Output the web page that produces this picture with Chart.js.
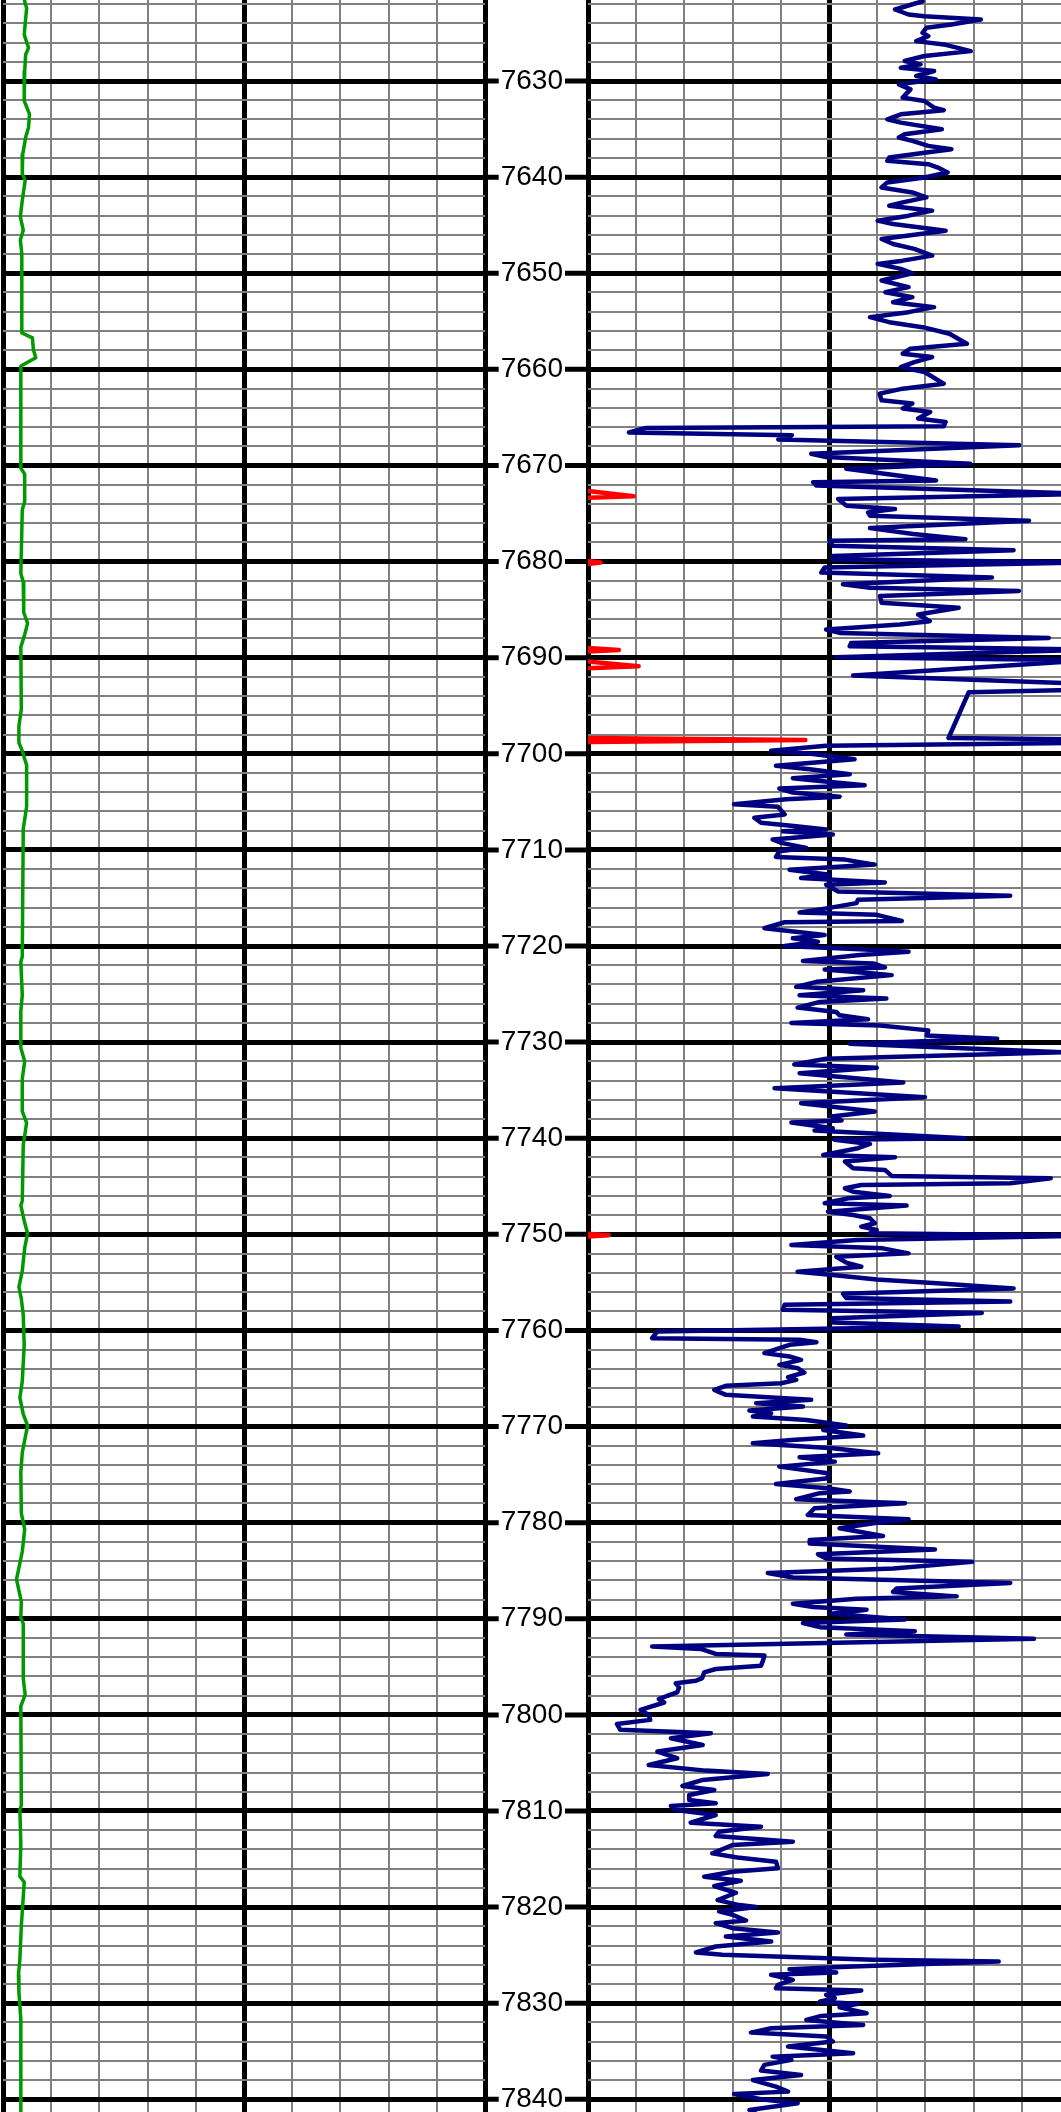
<!DOCTYPE html>
<html>
<head>
<meta charset="utf-8">
<script src="https://cdn.jsdelivr.net/npm/chart.js@4.4.0/dist/chart.umd.min.js"></script>
<style>
  html, body { margin: 0; padding: 0; background: #fff; overflow: hidden; }
  #wrap { position: relative; width: 1061px; height: 2112px; overflow: hidden; }
  #left { position: absolute; left: 0; top: 0; }
  #right { position: absolute; left: 485px; top: 0; }
</style>
</head>
<body>
<div id="wrap">
  <canvas id="left" width="490" height="2112"></canvas>
  <canvas id="right" width="590" height="2112"></canvas>
</div>
<script>
// visible depth window (ft)
const DEPTH_TOP = 7621.57;
const DEPTH_BOTTOM = 7841.32;

const depthLabels = [7630, 7640, 7650, 7660, 7670, 7680, 7690, 7700, 7710, 7720, 7730,
  7740, 7750, 7760, 7770, 7780, 7790, 7800, 7810, 7820, 7830, 7840];

// track scale is 0..100 with a line every 10, heavy at 0/50/100
const trackTicks = [0, 10, 20, 30, 40, 50, 60, 70, 80, 90, 100];

// left track curve (green)
const greenDepth = [7621.0, 7621.72, 7622.41, 7625.17, 7626.55, 7627.24, 7628.97, 7632.07, 7633.45, 7634.83,
  7635.86, 7637.59, 7639.66, 7640.34, 7642.41, 7644.14, 7645.52, 7646.55, 7647.93, 7650.52,
  7656.21, 7656.72, 7657.93, 7658.79, 7659.66, 7663.10, 7670.3, 7670.9, 7673.75, 7674.6,
  7681.25, 7682.1, 7685.3, 7686.4, 7687.6, 7688.9, 7695.4, 7697.1, 7698.85, 7699.7,
  7701.2, 7705.5, 7707.8, 7721.1, 7721.65, 7725.1, 7726.8, 7730.6, 7732.0, 7733.8,
  7737.2, 7738.4, 7740.7, 7746.5, 7747.0, 7748.8, 7749.9, 7751.4, 7753.8, 7755.5,
  7756.7, 7758.4, 7761.5, 7765.3, 7767.0, 7768.7, 7769.9, 7772.7, 7774.7, 7779.0,
  7780.7, 7783.0, 7785.9, 7788.2, 7789.9, 7790.5, 7796.2, 7797.9, 7799.1, 7809.4,
  7809.9, 7813.4, 7816.8, 7817.4, 7822.0, 7825.4, 7827.1, 7828.8, 7831.7, 7841.8];
const greenValue = [4.5, 4.5, 4.9, 4.4, 5.3, 4.7, 4.5, 4.4, 5.5, 5.3,
  4.7, 4.1, 4.0, 4.6, 4.0, 3.6, 4.2, 3.6, 3.9, 3.9,
  3.9, 6.1, 6.3, 6.8, 3.7, 3.7, 3.7, 4.5, 4.5, 4.0,
  3.7, 4.2, 4.3, 5.1, 4.5, 3.7, 3.8, 3.3, 3.3, 4.0,
  4.9, 4.9, 4.2, 4.0, 3.7, 4.0, 3.7, 3.7, 4.5, 4.0,
  4.0, 4.9, 4.2, 4.0, 3.7, 4.5, 5.1, 4.5, 4.0, 3.3,
  3.8, 4.2, 4.4, 4.0, 3.5, 4.2, 5.1, 4.0, 3.7, 3.8,
  4.5, 4.0, 2.8, 3.8, 3.7, 4.2, 4.2, 4.6, 3.7, 3.8,
  3.5, 3.7, 3.5, 4.4, 3.8, 3.5, 3.2, 3.3, 3.7, 3.7];

// right track curve (blue)
const blueDepth = [7621.0, 7621.70, 7622.56, 7623.08, 7623.25, 7623.60, 7624.12, 7624.46, 7624.98, 7625.33,
  7625.85, 7626.19, 7626.89, 7627.40, 7627.92, 7628.27, 7628.62, 7628.96, 7629.48, 7629.83,
  7630.35, 7630.87, 7631.73, 7632.08, 7632.77, 7633.04, 7633.46, 7633.98, 7634.33, 7635.02,
  7635.54, 7635.88, 7636.23, 7636.75, 7637.09, 7637.44, 7637.96, 7638.30, 7638.65, 7639.00,
  7639.52, 7640.03, 7640.55, 7641.07, 7641.59, 7642.11, 7642.63, 7642.98, 7643.49, 7644.01,
  7644.53, 7644.88, 7645.57, 7646.09, 7646.44, 7646.96, 7647.47, 7648.17, 7648.69, 7649.03,
  7649.55, 7650.00, 7650.76, 7651.45, 7651.97, 7652.49, 7653.01, 7653.53, 7654.05, 7654.57,
  7655.09, 7655.61, 7656.30, 7657.34, 7657.85, 7658.37, 7658.72, 7659.24, 7659.76, 7660.28,
  7661.49, 7662.01, 7662.53, 7663.22, 7663.56, 7664.08, 7664.43, 7665.12, 7665.47, 7665.92,
  7666.09, 7666.57, 7666.85, 7667.30, 7667.89, 7668.78, 7669.13, 7669.83, 7670.35, 7671.57,
  7671.74, 7672.09, 7672.96, 7673.48, 7674.18, 7674.53, 7674.88, 7675.23, 7675.75, 7676.52,
  7677.14, 7677.67, 7677.84, 7678.36, 7678.82, 7679.41, 7679.76, 7680.10, 7680.63, 7681.15,
  7681.67, 7682.37, 7682.72, 7683.07, 7683.59, 7684.29, 7684.81, 7685.51, 7686.20, 7686.55,
  7687.07, 7687.42, 7687.94, 7688.47, 7688.81, 7689.16, 7689.95, 7690.28, 7691.85, 7692.72,
  7693.34, 7693.59, 7698.36, 7698.50, 7698.85, 7699.16, 7699.69, 7700.03, 7700.56, 7701.25,
  7701.60, 7702.13, 7702.54, 7702.82, 7703.28, 7703.62, 7704.04, 7704.46, 7704.74, 7705.26,
  7705.51, 7706.31, 7706.66, 7707.18, 7707.53, 7707.88, 7708.05, 7708.40, 7708.92, 7709.27,
  7709.79, 7710.14, 7710.73, 7711.01, 7711.53, 7712.06, 7712.58, 7712.93, 7713.38, 7713.62,
  7714.32, 7714.77, 7715.19, 7715.54, 7716.06, 7716.52, 7716.76, 7717.39, 7717.53, 7718.15,
  7718.85, 7719.20, 7719.55, 7720.00, 7720.35, 7720.59, 7720.94, 7721.57, 7721.81, 7722.23,
  7722.44, 7722.86, 7723.03, 7723.73, 7724.25, 7724.60, 7725.12, 7725.47, 7725.82, 7726.41,
  7726.86, 7727.21, 7727.63, 7728.01, 7728.26, 7728.78, 7729.30, 7729.65, 7730.17, 7731.05,
  7731.74, 7732.33, 7732.68, 7733.23, 7734.20, 7734.79, 7735.73, 7736.35, 7737.22, 7737.74,
  7738.16, 7738.37, 7738.96, 7739.20, 7740.00, 7740.17, 7740.59, 7741.04, 7741.74, 7741.98,
  7742.43, 7743.13, 7743.30, 7743.92, 7744.17, 7744.69, 7744.86, 7745.21, 7745.56, 7746.01,
  7746.25, 7746.77, 7747.01, 7747.64, 7747.99, 7748.33, 7748.85, 7749.20, 7749.55, 7749.90,
  7750.14, 7750.59, 7751.11, 7751.46, 7751.98, 7752.33, 7752.95, 7753.37, 7753.89, 7754.24,
  7754.69, 7755.10, 7755.63, 7756.18, 7756.63, 7756.98, 7757.33, 7757.85, 7758.19, 7758.72,
  7759.17, 7759.58, 7760.10, 7760.80, 7760.97, 7761.22, 7761.49, 7762.36, 7762.71, 7763.06,
  7763.58, 7763.92, 7764.38, 7764.86, 7765.14, 7765.49, 7765.76, 7766.18, 7766.70, 7766.94,
  7767.22, 7767.57, 7767.92, 7768.33, 7768.61, 7768.96, 7769.31, 7769.90, 7770.35, 7770.94,
  7771.39, 7771.74, 7772.26, 7772.78, 7773.19, 7773.65, 7774.17, 7774.86, 7775.38, 7775.97,
  7776.42, 7776.76, 7776.93, 7777.56, 7777.98, 7778.50, 7779.20, 7779.65, 7780.07, 7780.59,
  7781.39, 7781.81, 7782.16, 7782.79, 7783.28, 7783.73, 7784.08, 7784.77, 7785.23, 7785.71,
  7786.27, 7786.86, 7787.21, 7787.67, 7787.91, 7788.43, 7788.78, 7789.06, 7789.48, 7790.07,
  7790.45, 7790.87, 7791.29, 7791.64, 7792.09, 7792.89, 7793.14, 7793.66, 7793.83, 7794.36,
  7794.88, 7795.23, 7795.57, 7796.17, 7796.45, 7796.72, 7797.14, 7797.67, 7798.01, 7798.36,
  7798.71, 7799.48, 7800.00, 7800.52, 7800.94, 7801.56, 7801.91, 7802.43, 7803.13, 7803.82,
  7804.51, 7805.21, 7805.80, 7806.15, 7806.49, 7806.77, 7807.40, 7807.81, 7808.33, 7808.85,
  7809.20, 7809.48, 7809.90, 7810.42, 7811.22, 7811.63, 7812.15, 7812.60, 7813.19, 7813.54,
  7814.41, 7814.83, 7815.28, 7815.97, 7816.32, 7816.84, 7817.26, 7817.81, 7818.51, 7819.27,
  7819.79, 7820.00, 7820.45, 7820.80, 7821.39, 7821.67, 7822.19, 7822.64, 7823.06, 7823.58,
  7824.10, 7824.72, 7824.97, 7825.49, 7825.66, 7826.18, 7826.46, 7826.81, 7827.05, 7827.57,
  7828.09, 7828.44, 7828.68, 7829.13, 7829.48, 7829.83, 7830.07, 7830.42, 7831.04, 7831.32,
  7831.74, 7832.26, 7832.60, 7833.06, 7833.47, 7833.99, 7834.51, 7835.21, 7835.56, 7835.90,
  7836.42, 7837.01, 7837.47, 7838.00, 7838.68, 7839.20, 7839.44, 7840.00, 7840.42, 7841.11,
  7841.8];
const blueValue = [68.0, 69.4, 63.7, 66.5, 69.8, 81.5, 75.4, 70.2, 69.4, 70.6,
  68.1, 73.8, 79.4, 69.8, 65.7, 69.0, 64.9, 71.8, 68.1, 72.2,
  64.5, 66.9, 65.3, 69.8, 71.8, 73.8, 64.9, 62.1, 64.9, 73.4,
  65.7, 64.5, 67.3, 70.6, 75.4, 70.2, 62.5, 62.1, 70.6, 72.6,
  74.6, 69.8, 62.1, 60.9, 67.3, 70.2, 65.3, 62.5, 71.4, 66.5,
  60.1, 63.3, 74.2, 66.1, 60.9, 63.3, 67.7, 71.4, 65.3, 60.1,
  64.9, 67.3, 60.9, 66.5, 61.7, 67.3, 63.3, 71.8, 66.5, 58.5,
  62.5, 69.4, 75.0, 78.6, 66.9, 65.3, 71.4, 67.7, 64.9, 69.8,
  73.8, 65.3, 60.5, 60.9, 67.3, 65.3, 71.0, 68.5, 74.2, 73.8,
  12.1, 8.5, 42.3, 39.5, 89.5, 46.3, 49.4, 79.3, 53.6, 72.2,
  46.7, 47.4, 104, 51.9, 53.6, 63.7, 58.1, 58.5, 91.5, 58.5,
  67.5, 78.3, 50.1, 50.8, 88.3, 50.8, 50.8, 103, 49.1, 48.4,
  83.8, 52.9, 58.5, 89.4, 60.6, 60.9, 76.9, 68.5, 70.9, 64.7,
  49.4, 52.2, 95.6, 54.6, 54.3, 104, 51.5, 104, 55.0, 104,
  103, 79.0, 74.8, 104, 104, 49.4, 38.0, 46.7, 55.3, 39.0,
  46.0, 54.3, 42.5, 48.1, 57.4, 39.7, 42.5, 52.2, 41.1, 30.3,
  39.4, 40.8, 34.5, 35.9, 43.2, 49.4, 40.4, 50.8, 38.3, 40.1,
  45.3, 39.7, 39.0, 53.3, 59.5, 41.8, 50.1, 44.2, 61.6, 49.4,
  51.9, 87.6, 56.0, 55.7, 49.8, 43.9, 59.9, 65.1, 40.8, 36.6,
  49.1, 42.5, 47.7, 40.8, 56.4, 66.5, 56.4, 44.6, 59.2, 61.6,
  49.1, 59.2, 63.0, 47.4, 43.2, 57.1, 43.9, 61.9, 48.1, 43.5,
  51.5, 52.2, 58.1, 42.2, 60.6, 70.6, 70.3, 84.9, 54.3, 98.5,
  49.4, 42.8, 59.9, 43.9, 65.4, 38.7, 69.9, 44.2, 59.5, 50.5,
  52.6, 42.2, 50.8, 47.0, 78.3, 51.2, 58.5, 56.0, 48.8, 63.7,
  53.3, 55.0, 61.6, 63.0, 96.0, 87.6, 56.7, 53.3, 55.0, 62.6,
  54.0, 49.1, 66.1, 49.8, 55.0, 58.5, 59.5, 56.7, 59.9, 58.5,
  104, 55.7, 42.2, 61.2, 66.5, 51.5, 53.6, 56.7, 43.5, 50.8,
  59.9, 72.4, 88.3, 52.9, 53.6, 87.6, 40.8, 40.4, 81.7, 50.8,
  50.8, 76.9, 14.4, 13.3, 43.9, 47.4, 41.8, 36.6, 41.8, 44.2,
  39.7, 43.5, 44.9, 41.5, 43.2, 40.1, 28.6, 26.2, 28.6, 37.3,
  46.3, 34.9, 44.6, 33.5, 38.0, 34.2, 45.3, 53.6, 48.8, 57.1,
  42.2, 34.2, 50.8, 60.2, 43.9, 51.2, 39.7, 49.8, 49.8, 39.0,
  49.8, 54.3, 48.1, 43.2, 65.8, 47.0, 45.6, 66.5, 59.2, 52.2,
  61.2, 46.0, 46.0, 72.0, 47.7, 49.4, 79.7, 63.3, 37.3, 42.5,
  87.6, 64.0, 63.3, 76.5, 55.7, 42.5, 46.7, 57.8, 50.5, 65.8,
  44.6, 48.1, 67.8, 53.6, 92.5, 13.3, 23.4, 26.5, 36.6, 36.3,
  35.9, 26.5, 24.1, 23.7, 22.4, 18.2, 18.9, 18.5, 16.5, 14.7,
  15.8, 10.9, 12.6, 12.9, 6.0, 6.7, 25.5, 17.2, 23.8, 14.4,
  18.5, 12.6, 24.4, 37.3, 30.0, 23.8, 19.6, 26.2, 21.0, 21.0,
  26.5, 17.2, 18.2, 26.5, 21.3, 35.9, 27.2, 26.5, 42.5, 30.0,
  25.8, 31.0, 39.0, 39.4, 30.0, 24.1, 31.7, 26.2, 30.7, 26.9,
  31.4, 34.9, 27.2, 30.0, 32.8, 26.5, 30.0, 39.4, 28.6, 38.0,
  26.5, 22.4, 27.9, 59.2, 85.2, 55.0, 41.8, 51.5, 38.0, 42.5,
  39.4, 39.0, 56.7, 49.4, 51.2, 48.1, 56.0, 52.2, 57.8, 48.4,
  45.3, 57.1, 38.0, 33.8, 49.4, 50.8, 41.5, 55.0, 38.3, 42.2,
  36.6, 35.9, 44.2, 34.2, 39.0, 41.5, 30.3, 35.9, 43.5, 33.5,
  36.0];

// right track curve (red), only short kicks; null = no reading
const redDepth = [7672.65, 7673.2, 7673.35, 7673.5,
  7679.95, 7680.1, 7680.25, 7680.4,
  7689.0, 7689.2, 7689.35, 7689.5,
  7690.4, 7690.9, 7691.1, 7691.3,
  7698.35, 7698.57, 7698.78, 7699.0,
  7749.95, 7750.1, 7750.22];
const redValue = [0, 9.5, 0, null,
  0, 2.6, 0, null,
  0, 6.4, 0, null,
  0, 10.5, 0, null,
  0, 45.1, 0, null,
  0, 4.3, 0];

const LABEL_FONT = '"Liberation Sans", Arial, sans-serif';
const LABEL_SIZE = 28;
const LABEL_PAD = 25;

function points(depths, values) {
  return depths.map((d, i) => ({ x: values[i], y: d }));
}

const isMajorDepth = c => c.tick && c.tick.value % 10 === 0;
const isMajorTrack = c => c.tick && c.tick.value % 50 === 0;

function depthAxis(withLabels) {
  return {
    type: 'linear',
    reverse: true,
    min: DEPTH_TOP,
    max: DEPTH_BOTTOM,
    afterBuildTicks: axis => {
      const t = [];
      for (let d = 7622; d <= 7840; d += 2) t.push({ value: d });
      axis.ticks = t;
    },
    afterFit: axis => {
      axis.width = withLabels ? 103 : 0;
      axis.paddingTop = 0;
      axis.paddingBottom = 0;
    },
    border: { display: false },
    grid: {
      drawTicks: false,
      color: c => isMajorDepth(c) ? '#000000' : '#808080',
      lineWidth: c => isMajorDepth(c) ? 5 : 2
    },
    ticks: {
      display: withLabels,
      autoSkip: false,
      padding: LABEL_PAD,
      color: '#000000',
      font: { family: LABEL_FONT, size: LABEL_SIZE },
      callback: v => depthLabels.includes(v) ? String(v) : ''
    }
  };
}

function trackAxis() {
  return {
    type: 'linear',
    min: 0,
    max: 100,
    afterBuildTicks: axis => { axis.ticks = trackTicks.map(v => ({ value: v })); },
    afterFit: axis => {
      axis.height = 0;
      axis.paddingLeft = 0;
      axis.paddingRight = 0;
    },
    border: { display: false },
    grid: {
      drawTicks: false,
      color: c => isMajorTrack(c) ? '#000000' : '#808080',
      lineWidth: c => isMajorTrack(c) ? 5 : 2
    },
    ticks: { display: false }
  };
}

function curve(data, color, width) {
  return {
    data,
    showLine: true,
    borderColor: color,
    backgroundColor: color,
    borderWidth: width,
    pointRadius: 0,
    tension: 0,
    spanGaps: false,
    borderJoinStyle: 'round',
    borderCapStyle: 'round'
  };
}

const baseOptions = {
  responsive: false,
  animation: false,
  devicePixelRatio: 1,
  plugins: { legend: { display: false }, tooltip: { enabled: false } }
};

// heavy depth lines crossing the label column
const labelLines = {
  id: 'labelLines',
  afterDraw(chart) {
    const y = chart.scales.y;
    const ctx = chart.ctx;
    const textRight = y.right - LABEL_PAD;
    ctx.save();
    ctx.font = LABEL_SIZE + 'px ' + LABEL_FONT;
    ctx.strokeStyle = '#000000';
    ctx.lineWidth = 5;
    depthLabels.forEach(d => {
      const py = y.getPixelForValue(d);
      const w = ctx.measureText(String(d)).width;
      ctx.beginPath();
      ctx.moveTo(0, py);
      ctx.lineTo(textRight - w - 2, py);
      ctx.moveTo(textRight + 2, py);
      ctx.lineTo(chart.chartArea.left, py);
      ctx.stroke();
    });
    ctx.restore();
  }
};

new Chart(document.getElementById('left'), {
  type: 'scatter',
  data: { datasets: [curve(points(greenDepth, greenValue), '#009900', 3.5)] },
  options: Object.assign({}, baseOptions, {
    layout: { padding: { left: 3, right: 5, top: 0, bottom: 0 } },
    scales: { x: trackAxis(), y: depthAxis(false) }
  })
});

new Chart(document.getElementById('right'), {
  type: 'scatter',
  data: {
    datasets: [
      curve(points(redDepth, redValue), '#ff0000', 4.5),
      curve(points(blueDepth, blueValue), '#000080', 4.5)
    ]
  },
  options: Object.assign({}, baseOptions, {
    layout: { padding: { left: 0, right: 5, top: 0, bottom: 0 } },
    scales: { x: trackAxis(), y: depthAxis(true) }
  }),
  plugins: [labelLines]
});
</script>
</body>
</html>
